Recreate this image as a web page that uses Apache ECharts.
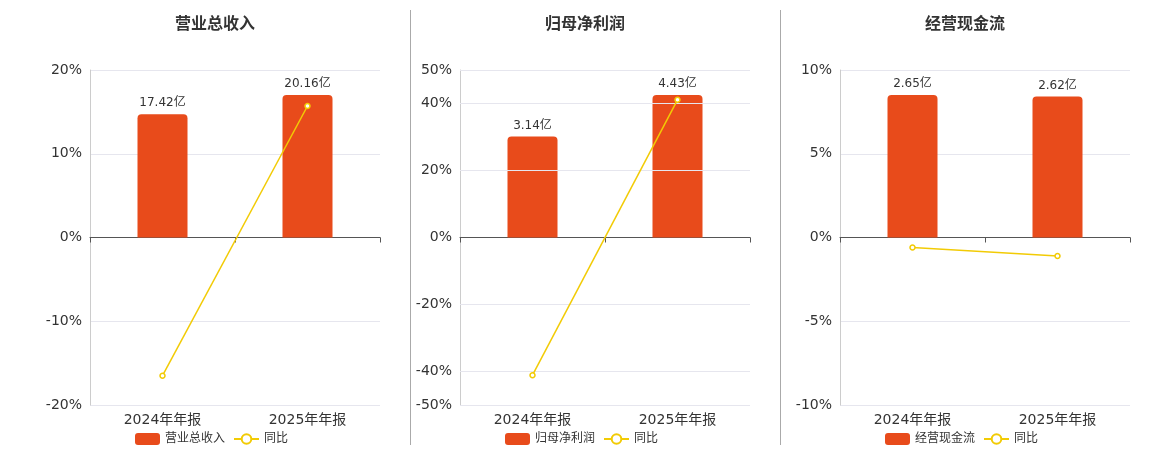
<!DOCTYPE html>
<html><head><meta charset="utf-8">
<script src="https://cdn.jsdelivr.net/npm/echarts@6/dist/echarts.min.js"></script>
<style>html,body{margin:0;padding:0;background:#fff}#c{width:1160px;height:450px}</style>
</head><body><div id="c"></div>
<script>
const categories = ['2024年年报', '2025年年报'];
const titles = ['营业总收入', '归母净利润', '经营现金流'];
const barValues1 = [17.42, 20.16];
const barValues2 = [3.14, 4.43];
const barValues3 = [2.65, 2.62];
const yoy1 = [-16.5, 15.7];
const yoy2 = [-41.1, 41.1];
const yoy3 = [-0.6, -1.1];
const pctRanges = [[-20, 20, 10], [-50, 50, 10], [-10, 10, 5]];
const pctLabels2 = [-50, -40, -20, 0, 20, 40, 50];

const bars = [barValues1, barValues2, barValues3];
const yoys = [yoy1, yoy2, yoy3];
const gridLeft = [90, 460, 840];
const centers = [210, 580, 960];
const font = 'DejaVu Sans, Noto Sans CJK SC, sans-serif';
const opt = {animation:false, textStyle:{fontFamily:font}, title:[], grid:[], xAxis:[], yAxis:[], series:[], legend:[],
  graphic:[
    {type:'line', shape:{x1:410.5,y1:10,x2:410.5,y2:445}, style:{stroke:'#aaa',lineWidth:1}},
    {type:'line', shape:{x1:780.5,y1:10,x2:780.5,y2:445}, style:{stroke:'#aaa',lineWidth:1}}
  ]};
for (let i=0;i<3;i++){
  const bmax = Math.max(...bars[i])*1.175;
  opt.title.push({text:titles[i], left:centers[i], top:12, textAlign:'center', textStyle:{fontSize:16,fontWeight:'bold',color:'#333',fontFamily:font}});
  opt.grid.push({left:gridLeft[i], width:290, top:70, bottom:45});
  opt.xAxis.push({type:'category', gridIndex:i, data:categories, axisLine:{onZero:true,lineStyle:{color:'#555'}}, axisTick:{show:true,lineStyle:{color:'#555'}},
    axisLabel:{fontSize:14,color:'#333',margin:8}, position:'bottom'});
  const yl = {type:'value', gridIndex:i, min:pctRanges[i][0], max:pctRanges[i][1], interval:pctRanges[i][2],
    axisLine:{show:true,lineStyle:{color:'#ccc'}}, axisLabel:{fontSize:14,color:'#333',formatter:'{value}%'},
    splitLine:{lineStyle:{color:'#e6e6ee'}}};
  if (i===1){
    yl.axisLabel.customValues = pctLabels2;
    yl.splitLine.show = false;
  }
  opt.yAxis.push(yl);
  opt.yAxis.push({type:'value', gridIndex:i, min:-bmax, max:bmax, show:false, splitLine:{show:false}});
  opt.series.push({name:titles[i], type:'bar', xAxisIndex:i, yAxisIndex:2*i+1, data:bars[i], barWidth:50,
    itemStyle:{color:'#E84B1B', borderRadius:[4,4,0,0]},
    label:{show:true, position:'top', formatter:p=>p.value.toFixed(2)+'亿', color:'#333', fontSize:12}});
  const ls = {name:'同比', type:'line', xAxisIndex:i, yAxisIndex:2*i, data:yoys[i], symbol:'circle', symbolSize:5,
    itemStyle:{color:'#fff', borderColor:'#F2CB05', borderWidth:1.5}, lineStyle:{color:'#F2CB05', width:1.5}, z:5};
  if (i===1){
    ls.markLine = {silent:true, symbol:'none', label:{show:false}, lineStyle:{color:'#e6e6ee', type:'solid', width:1},
      data: pctLabels2.filter(v=>v!==0).map(v=>({yAxis:v}))};
  }
  opt.series.push(ls);
  opt.legend.push({data:[{name:titles[i], itemStyle:{color:'#E84B1B'}}, {name:'同比', itemStyle:{color:'#fff',borderColor:'#F2CB05'}}],
    left:centers[i], top:428, textAlign:'center', itemWidth:25, itemHeight:12, textStyle:{fontSize:12,color:'#333'}});
}
// center legends
opt.legend.forEach((l,i)=>{ delete l.textAlign; l.left = centers[i]-80; });
echarts.init(document.getElementById('c')).setOption(opt);
</script></body></html>
